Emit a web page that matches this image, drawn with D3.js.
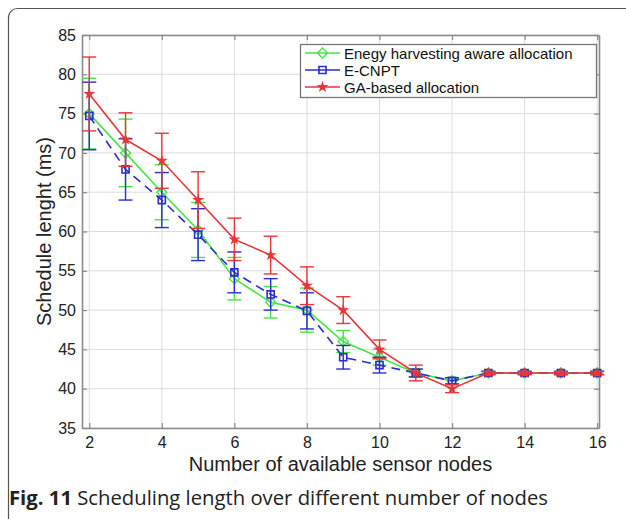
<!DOCTYPE html>
<html>
<head>
<meta charset="utf-8">
<script src="https://cdn.jsdelivr.net/npm/d3@7/dist/d3.min.js"></script>
<style>
  html, body { margin: 0; padding: 0; background: #fff; }
  svg { display: block; }
</style>
</head>
<body>
<svg id="chart" width="626" height="519"></svg>
<script>
// Number of available sensor nodes
const nodes = [2, 3, 4, 5, 6, 7, 8, 9, 10, 11, 12, 13, 14, 15, 16];

// Schedule length (ms) per allocation method, with error half-widths
const energyAware    = [75, 70, 65, 60.2, 54, 51, 50, 46, 44, 42, 41, 42, 42, 42, 42];
const energyAwareErr = [4.5, 4.3, 3.5, 3.5, 2.7, 2, 2.8, 1.4, 1.0, 0.5, 0.4, 0.2, 0.2, 0.2, 0.2];
const ecnpt          = [74.7, 67.9, 64, 59.6, 54.8, 52, 49.9, 44, 43, 42, 41, 42, 42, 42, 42];
const ecnptErr       = [4.3, 3.9, 3.5, 3.3, 2.6, 2, 2.3, 1.5, 1.0, 0.5, 0.4, 0.2, 0.2, 0.2, 0.2];
const gaBased        = [77.5, 71.7, 69, 64, 59, 57, 53.1, 50, 45, 42, 40, 42, 42, 42, 42];
const gaBasedErr     = [4.7, 3.4, 3.5, 3.6, 2.7, 2.4, 2.4, 1.7, 1.2, 1.0, 0.5, 0.2, 0.2, 0.2, 0.2];

const xTicks = [2, 4, 6, 8, 10, 12, 14, 16];
const yTicks = [35, 40, 45, 50, 55, 60, 65, 70, 75, 80, 85];

const seriesNames = ["Enegy harvesting aware allocation", "E-CNPT", "GA-based allocation"];

const svg = d3.select("#chart");
const plot = { left: 82, top: 35, right: 599, bottom: 428 };

const x = d3.scaleLinear().domain([1.8, 16.05]).range([plot.left, plot.right]);
const y = d3.scaleLinear().domain([35, 85]).range([plot.bottom, plot.top]);

// Rounded figure frame (clipped by the page edges on right and bottom)
svg.append("rect")
  .attr("x", 8.5).attr("y", 8.5)
  .attr("width", 640).attr("height", 540)
  .attr("rx", 9).attr("ry", 9)
  .attr("fill", "none").attr("stroke", "#555").attr("stroke-width", 1.2);

// Grid
const grid = svg.append("g").attr("stroke", "#dcdcdc").attr("stroke-width", 1);
grid.selectAll("line.gx").data(xTicks).join("line")
  .attr("x1", d => x(d)).attr("x2", d => x(d))
  .attr("y1", plot.top).attr("y2", plot.bottom);
grid.selectAll("line.gy").data(yTicks).join("line")
  .attr("x1", plot.left).attr("x2", plot.right)
  .attr("y1", d => y(d)).attr("y2", d => y(d));

// Axes (ticks pointing inward, box style)
const axisColor = "#8a8a8a";
const font = "'Liberation Sans', Arial, Helvetica, sans-serif";

const gx = svg.append("g").attr("transform", `translate(0,${plot.bottom})`)
  .call(d3.axisBottom(x).tickValues(xTicks).tickSizeInner(-5).tickSizeOuter(0).tickPadding(9));
const gy = svg.append("g").attr("transform", `translate(${plot.left},0)`)
  .call(d3.axisLeft(y).tickValues(yTicks).tickSizeInner(-5).tickSizeOuter(0).tickPadding(6));
const gxTop = svg.append("g").attr("transform", `translate(0,${plot.top})`)
  .call(d3.axisTop(x).tickValues(xTicks).tickSizeInner(-5).tickSizeOuter(0).tickFormat(""));
const gyRight = svg.append("g").attr("transform", `translate(${plot.right},0)`)
  .call(d3.axisRight(y).tickValues(yTicks).tickSizeInner(-5).tickSizeOuter(0).tickFormat(""));

[gx, gy, gxTop, gyRight].forEach(g => {
  g.select(".domain").attr("stroke", axisColor).attr("stroke-width", 1.6);
  g.selectAll(".tick line").attr("stroke", axisColor).attr("stroke-width", 1.2);
  g.selectAll(".tick text").attr("fill", "#222").attr("font-family", font).attr("font-size", 16);
});

// Series drawing
const series = [
  { name: seriesNames[0], values: energyAware, err: energyAwareErr, color: "#44e644", dash: null, marker: "diamond" },
  { name: seriesNames[1], values: ecnpt, err: ecnptErr, color: "#2c2cd0", dash: "9,6", marker: "square" },
  { name: seriesNames[2], values: gaBased, err: gaBasedErr, color: "#e8363a", dash: null, marker: "star" }
];

function drawMarker(g, type, cx, cy, color) {
  if (type === "diamond") {
    g.append("path")
      .attr("d", d3.symbol(d3.symbolDiamond2, 64)())
      .attr("transform", `translate(${cx},${cy})`)
      .attr("fill", "none").attr("stroke", color).attr("stroke-width", 1.4);
  } else if (type === "square") {
    g.append("path")
      .attr("d", d3.symbol(d3.symbolSquare2, 64)())
      .attr("transform", `translate(${cx},${cy})`)
      .attr("fill", "none").attr("stroke", color).attr("stroke-width", 1.6);
  } else {
    g.append("path")
      .attr("d", d3.symbol(d3.symbolStar, 18)())
      .attr("transform", `translate(${cx},${cy})`)
      .attr("fill", color).attr("stroke", color).attr("stroke-width", 1.4);
  }
}

const capHalf = 7;
series.forEach(s => {
  const g = svg.append("g");
  const pts = nodes.map((n, i) => ({ n, v: s.values[i], e: s.err[i] }));

  // error bars
  pts.forEach(p => {
    const eb = g.append("g").attr("stroke", s.color).attr("stroke-width", 1.4).attr("fill", "none");
    eb.append("line").attr("x1", x(p.n)).attr("x2", x(p.n)).attr("y1", y(p.v - p.e)).attr("y2", y(p.v + p.e));
    eb.append("line").attr("x1", x(p.n) - capHalf).attr("x2", x(p.n) + capHalf).attr("y1", y(p.v + p.e)).attr("y2", y(p.v + p.e));
    eb.append("line").attr("x1", x(p.n) - capHalf).attr("x2", x(p.n) + capHalf).attr("y1", y(p.v - p.e)).attr("y2", y(p.v - p.e));
  });

  // line
  g.append("path")
    .datum(pts)
    .attr("d", d3.line().x(p => x(p.n)).y(p => y(p.v)))
    .attr("fill", "none").attr("stroke", s.color).attr("stroke-width", 1.6)
    .attr("stroke-dasharray", s.dash);

  // markers
  pts.forEach(p => drawMarker(g, s.marker, x(p.n), y(p.v), s.color));
});

// Legend
const legend = svg.append("g");
legend.append("rect")
  .attr("x", 300.5).attr("y", 44.5).attr("width", 296).attr("height", 53)
  .attr("fill", "#fff").attr("stroke", "#777").attr("stroke-width", 1.3);
series.forEach((s, i) => {
  const ly = 53 + i * 17;
  legend.append("line")
    .attr("x1", 305).attr("x2", 340).attr("y1", ly).attr("y2", ly)
    .attr("stroke", s.color).attr("stroke-width", 1.6);
  drawMarker(legend, s.marker, 322.5, ly, s.color);
  legend.append("text")
    .attr("x", 344).attr("y", ly + 5.5)
    .attr("font-family", font).attr("font-size", 15).attr("fill", "#111")
    .text(s.name);
});

// Axis titles
svg.append("text")
  .attr("x", (plot.left + plot.right) / 2).attr("y", 471)
  .attr("text-anchor", "middle")
  .attr("font-family", font).attr("font-size", 20).attr("fill", "#222")
  .text("Number of available sensor nodes");

svg.append("text")
  .attr("transform", `translate(51,${(plot.top + plot.bottom) / 2}) rotate(-90)`)
  .attr("text-anchor", "middle")
  .attr("font-family", font).attr("font-size", 20).attr("fill", "#222")
  .text("Schedule lenght (ms)");

// Figure caption
const cap = svg.append("text")
  .attr("x", 9).attr("y", 505)
  .attr("font-family", "'Open Sans', 'Noto Sans', sans-serif").attr("font-size", 19.5).attr("fill", "#222")
  .attr("textLength", 539).attr("lengthAdjust", "spacingAndGlyphs");
cap.append("tspan").attr("font-weight", "bold").text("Fig. 11");
cap.append("tspan").text(" Scheduling length over different number of nodes");
</script>
</body>
</html>
